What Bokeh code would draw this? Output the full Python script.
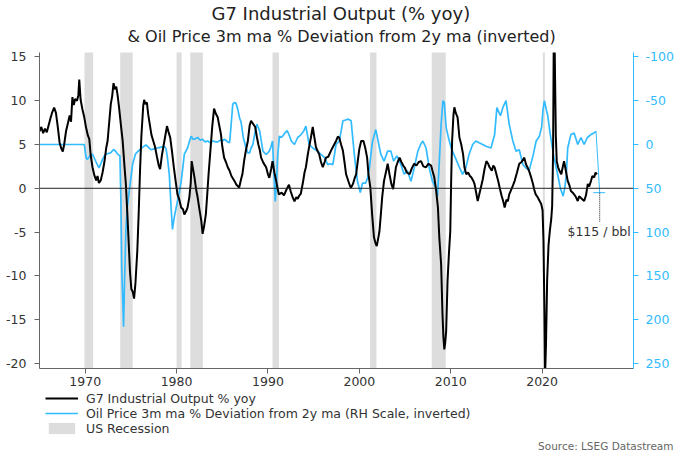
from bokeh.plotting import figure
from bokeh.layouts import column
from bokeh.models import Range1d, LinearAxis, Span, Label, Legend, LegendItem, FixedTicker, Title
from bokeh.embed import file_html
from bokeh.resources import INLINE

FONT = "DejaVu Sans"

# ---------------- data ----------------
ip_year = [1965.0, 1965.2, 1965.4, 1965.6, 1965.8, 1966.0, 1966.2, 1966.4, 1966.6, 1966.8, 1967.0, 1967.2, 1967.4, 1967.55, 1967.7, 1967.9,
           1968.1, 1968.3, 1968.45, 1968.6, 1968.75, 1968.9, 1969.1, 1969.25, 1969.35, 1969.5, 1969.7, 1969.9, 1970.1, 1970.3, 1970.45, 1970.6,
           1970.8, 1971.0, 1971.2, 1971.35, 1971.5, 1971.7, 1971.9, 1972.1, 1972.3, 1972.45, 1972.6, 1972.8, 1972.95, 1973.1, 1973.25, 1973.4,
           1973.55, 1973.7, 1973.9, 1974.1, 1974.3, 1974.45, 1974.6, 1974.75, 1974.9, 1975.05, 1975.2, 1975.35, 1975.5, 1975.7, 1975.85, 1976.0,
           1976.15, 1976.35, 1976.45, 1976.6, 1976.75, 1976.9, 1977.05, 1977.25, 1977.45, 1977.65, 1977.85, 1978.05, 1978.2, 1978.4, 1978.6, 1978.8,
           1978.95, 1979.1, 1979.3, 1979.5, 1979.7, 1979.9, 1980.1, 1980.3, 1980.5, 1980.7, 1980.85, 1981.05, 1981.2, 1981.4, 1981.55, 1981.65,
           1981.8, 1981.95, 1982.15, 1982.3, 1982.5, 1982.7, 1982.85, 1983.0, 1983.2, 1983.35, 1983.5, 1983.7, 1983.9, 1984.1, 1984.3, 1984.5,
           1984.7, 1984.85, 1985.0, 1985.2, 1985.4, 1985.6, 1985.8, 1986.0, 1986.3, 1986.55, 1986.85, 1987.05, 1987.2, 1987.4, 1987.6, 1987.8,
           1988.0, 1988.15, 1988.35, 1988.6, 1988.8, 1988.95, 1989.1, 1989.25, 1989.5, 1989.8, 1990.0, 1990.15, 1990.35, 1990.5, 1990.7, 1990.9,
           1991.05, 1991.2, 1991.5, 1991.75, 1992.0, 1992.3, 1992.5, 1992.7, 1992.9, 1993.1, 1993.25, 1993.45, 1993.6, 1993.85, 1994.0, 1994.15,
           1994.35, 1994.5, 1994.7, 1994.9, 1995.05, 1995.25, 1995.45, 1995.6, 1995.8, 1996.0, 1996.2, 1996.35, 1996.6, 1996.9, 1997.15, 1997.45,
           1997.65, 1997.8, 1998.0, 1998.2, 1998.4, 1998.55, 1998.8, 1999.0, 1999.1, 1999.3, 1999.5, 1999.65, 1999.85, 2000.0, 2000.2, 2000.45,
           2000.65, 2000.85, 2001.0, 2001.2, 2001.4, 2001.6, 2001.75, 2001.9, 2002.05, 2002.2, 2002.35, 2002.5, 2002.7, 2002.9, 2003.1, 2003.3,
           2003.5, 2003.7, 2003.85, 2004.0, 2004.2, 2004.4, 2004.6, 2004.8, 2004.95, 2005.2, 2005.5, 2005.75, 2006.0, 2006.25, 2006.5, 2006.75,
           2007.0, 2007.3, 2007.55, 2007.85, 2008.0, 2008.2, 2008.4, 2008.6, 2008.75, 2008.95, 2009.1, 2009.2, 2009.3, 2009.4, 2009.5, 2009.65,
           2009.8, 2009.95, 2010.05, 2010.15, 2010.3, 2010.4, 2010.55, 2010.75, 2010.95, 2011.15, 2011.35, 2011.5, 2011.7, 2011.9, 2012.1, 2012.25,
           2012.45, 2012.6, 2012.8, 2012.95, 2013.1, 2013.3, 2013.5, 2013.7, 2013.9, 2014.1, 2014.25, 2014.5, 2014.65, 2014.8, 2015.0, 2015.2,
           2015.35, 2015.55, 2015.75, 2015.9, 2016.1, 2016.25, 2016.4, 2016.6, 2016.8, 2017.0, 2017.25, 2017.5, 2017.75, 2018.05, 2018.25, 2018.4,
           2018.6, 2018.8, 2019.0, 2019.15, 2019.3, 2019.5, 2019.7, 2019.9, 2020.05, 2020.15, 2020.25, 2020.32, 2020.42, 2020.55, 2020.7, 2020.85,
           2021.0, 2021.1, 2021.2, 2021.3, 2021.4, 2021.5, 2021.6, 2021.75, 2021.9, 2022.1, 2022.25, 2022.4, 2022.6, 2022.8, 2023.0, 2023.15,
           2023.35, 2023.5, 2023.7, 2023.9, 2024.05, 2024.25, 2024.45, 2024.6, 2024.8, 2025.0, 2025.15, 2025.35, 2025.5, 2025.7, 2025.85, 2026.0]
ip_yoy = [6.5, 7.0, 6.3, 6.8, 6.4, 7.2, 8.0, 8.7, 9.2, 8.6, 7.0, 5.2, 4.5, 4.2, 5.0, 6.5,
          7.4, 8.3, 7.6, 10.4, 9.5, 10.2, 10.0, 10.6, 12.4, 10.1, 9.0, 8.1, 6.9, 6.0, 5.6, 3.8,
          2.4, 1.5, 0.9, 1.4, 0.6, 0.9, 1.8, 3.0, 4.6, 5.4, 7.2, 9.6, 10.5, 12.0, 11.3, 11.6,
          10.6, 9.3, 7.3, 5.4, 2.5, 0.5, -2.6, -6.0, -9.5, -11.5, -11.8, -12.6, -10.8, -7.2, -3.0, 2.0,
          6.0, 9.4, 10.1, 9.6, 9.8, 8.4, 7.4, 6.1, 5.4, 4.7, 3.6, 2.6, 2.2, 3.8, 5.0, 6.2,
          7.1, 6.5, 5.8, 4.2, 2.4, 0.8, -0.7, -1.3, -2.2, -2.4, -3.0, -2.6, -2.2, -1.0, 0.6, 3.1,
          2.2, 1.3, -0.2, -1.0, -2.4, -3.7, -5.2, -4.4, -3.0, -0.8, 1.6, 4.3, 7.0, 9.1, 8.5, 8.1,
          7.0, 6.2, 4.8, 3.5, 3.0, 2.4, 2.0, 1.4, 0.9, 0.4, 0.1, 1.0, 1.6, 3.2, 4.4, 5.4,
          7.2, 7.7, 7.4, 7.0, 5.8, 5.0, 4.4, 3.5, 2.9, 2.4, 1.6, 1.2, 2.2, 3.1, 1.8, 0.85,
          0.0, -0.7, -0.5, -0.8, -0.2, 0.4, -0.4, -1.0, -1.5, -1.0, -1.2, -0.8, -0.6, 0.8, 1.8, 2.4,
          3.8, 4.7, 5.8, 7.0, 6.0, 4.7, 4.2, 3.9, 3.0, 2.4, 3.0, 3.5, 3.6, 4.3, 4.8, 5.4,
          5.9, 5.8, 5.0, 4.3, 2.8, 1.6, 0.8, 0.2, 0.1, 0.5, 1.2, 1.6, 3.3, 4.5, 5.4, 5.4,
          4.6, 3.5, 1.6, 0.1, -3.0, -5.6, -6.2, -6.6, -5.8, -4.9, -3.0, -1.0, 0.85, 1.8, 2.8, 1.6,
          0.5, -0.1, 1.2, 2.4, 3.0, 3.5, 3.0, 2.6, 2.4, 1.8, 1.6, 2.3, 2.8, 2.6, 3.0, 3.1,
          2.5, 2.4, 2.8, 2.6, 2.0, 1.25, -0.2, -2.2, -5.6, -8.7, -14.4, -17.0, -18.4, -17.6, -16.3, -10.6,
          -7.5, -4.9, 1.0, 5.4, 8.4, 9.25, 8.6, 8.1, 5.8, 5.0, 3.9, 2.4, 1.6, 1.8, 1.4, 1.25,
          0.9, 0.5, -0.6, -1.45, -0.8, 0.1, 1.0, 2.2, 3.1, 2.8, 2.4, 2.0, 2.6, 2.4, 1.6, 0.8,
          0.1, -0.8, -1.5, -2.2, -1.3, -1.5, -0.7, -0.2, 0.3, 0.85, 1.8, 2.8, 3.0, 3.5, 2.7, 2.4,
          1.9, 1.25, 0.5, -0.2, -0.7, -1.0, -1.4, -1.8, -2.5, -6.0, -14.0, -21.5, -18.0, -10.5, -6.5, -4.8,
          -3.5, -2.0, 4.0, 22.0, 14.0, 6.0, 3.1, 2.4, 2.0, 1.6, 2.4, 3.1, 2.0, 0.85, 0.3, -0.3,
          -0.5, -0.7, -1.0, -1.45, -0.9, -1.1, -1.3, -1.45, -0.8, 0.5, 0.2, 0.85, 1.4, 1.25, 1.8, 1.6]

oil_year = [1965.0, 1969.9, 1970.1, 1970.25, 1970.5, 1970.8, 1971.1, 1971.5, 1971.75, 1971.9, 1972.1, 1972.3, 1972.6, 1972.8, 1973.1, 1973.35,
            1973.55, 1973.8, 1973.9, 1974.0, 1974.2, 1974.3, 1974.45, 1974.6, 1974.8, 1974.95, 1975.2, 1975.5, 1975.75, 1976.0, 1976.3, 1976.65,
            1976.9, 1977.2, 1977.55, 1977.9, 1978.3, 1978.65, 1978.85, 1979.0, 1979.2, 1979.4, 1979.55, 1979.7, 1979.8, 1980.1, 1980.3, 1980.5,
            1980.7, 1980.85, 1981.2, 1981.45, 1981.6, 1981.8, 1981.95, 1982.3, 1982.6, 1982.85, 1983.1, 1983.4, 1983.7, 1984.0, 1984.3, 1984.5,
            1984.8, 1985.0, 1985.25, 1985.6, 1985.8, 1985.95, 1986.15, 1986.35, 1986.5, 1986.7, 1986.9, 1987.05, 1987.3, 1987.6, 1987.8, 1988.0,
            1988.15, 1988.35, 1988.6, 1988.8, 1989.1, 1989.3, 1989.45, 1989.8, 1990.15, 1990.35, 1990.5, 1990.6, 1990.8, 1990.95, 1991.05, 1991.25,
            1991.45, 1991.6, 1991.85, 1992.1, 1992.35, 1992.55, 1992.9, 1993.25, 1993.6, 1993.9, 1994.15, 1994.3, 1994.5, 1994.9, 1995.2, 1995.45,
            1995.8, 1996.2, 1996.4, 1996.55, 1996.8, 1997.1, 1997.3, 1997.45, 1997.8, 1998.0, 1998.2, 1998.5, 1998.75, 1999.1, 1999.3, 1999.45,
            1999.65, 1999.8, 2000.1, 2000.35, 2000.7, 2000.9, 2001.1, 2001.3, 2001.45, 2001.8, 2002.05, 2002.35, 2002.7, 2003.1, 2003.45, 2003.75,
            2004.1, 2004.35, 2004.55, 2004.9, 2005.25, 2005.65, 2006.0, 2006.4, 2006.7, 2006.95, 2007.3, 2007.65, 2008.0, 2008.4, 2008.55, 2008.7,
            2008.95, 2009.15, 2009.3, 2009.5, 2009.75, 2010.05, 2010.5, 2010.9, 2011.3, 2011.65, 2012.0, 2012.4, 2012.75, 2013.1, 2013.5, 2013.85,
            2014.4, 2014.8, 2015.05, 2015.3, 2015.45, 2015.7, 2016.05, 2016.4, 2016.8, 2017.15, 2017.5, 2017.9, 2018.25, 2018.6, 2019.0, 2019.35,
            2019.7, 2019.95, 2020.1, 2020.25, 2020.45, 2020.6, 2020.9, 2021.3, 2021.7, 2022.0, 2022.3, 2022.5, 2022.65, 2022.8, 2023.15, 2023.5,
            2023.9, 2024.25, 2024.6, 2024.95, 2025.3, 2025.65, 2025.9]
oil_dev = [0, 0, 15, 17, 13, 11, 18, 26.7, 21, 17, 13, 11, 10, 9.5, 5.7, 8,
           11, 13, 60, 140, 208, 160, 99, 72, 55, 42, 22, 11, 8, 6, 3, 0.5,
           3, 6, 5, 4, 3, 2, 5, 15, 34, 72, 97, 86, 80, 65, 55, 42,
           25, 11, 4, -5, -9.5, -6, -6, -8, -5, -6, -3, -4, -2, -4, -3, -3,
           -5, -4, -6, -3, -2, -20, -46, -48, -47, -40, -30, -26, -8, 4, 9.6, 9.5,
           4, 0, -15, -23, -15, -2, 7.6, 11.4, 7.6, 2, -4, 20, 65, 40, 15, -9.5,
           -8, -9.5, -13, -16, -10, -4, 0, -8, -11, -15, -21, -12, 0, 4, 6, 7.6,
           11.4, 15, 20, 23, 22, 23, 10, 0, -4, -15, -27, -28, -29, -27, -5, 11,
           30, 42, 55, 44, 44, 38, 27, 8, -4, -17, -4, 11, 19, 7.6, 7.6, 19,
           13, 18, 23, 34, 30, 42, 27, 7.6, 0, -4, 4, 27, 42, 50, 59, 30,
           -23, -50, -48, -19, -8, 4, 15, 25, 34, 27, 11.4, 0, -4, -2, 0, 2,
           4, -11, -42, -36, -33, -42, -50, -23, -4, 7.6, 6, 23, 27, 29, 13, -4,
           -9.5, -20, -40, -50, -40, -34, -11, 15, 34, 50, 59, 48, 34, 4, -11.5, -13,
           0, -8, 0, -8, -11, -13, -15]

# $115/bbl scenario for the oil series
scen_year = [2025.9, 2026.3]
scen_dev = [-15, 55]
scen_tick_year = [2025.6, 2026.9]
scen_drop_dev = [55, 88]
scen_label = "$115 / bbl"

rec_start = [1969.92, 1973.83, 1980.0, 1981.5, 1990.5, 2001.17, 2007.92, 2020.08]
rec_end = [1970.87, 1975.2, 1980.55, 1982.87, 1991.2, 2001.87, 2009.45, 2020.3]

left_ticks = [-20, -15, -10, -5, 0, 5, 10, 15]
right_ticks = [-100, -50, 0, 50, 100, 150, 200, 250]
year_ticks = [1970, 1980, 1990, 2000, 2010, 2020]

title_text = "G7 Industrial Output (% yoy)"
subtitle_text = "& Oil Price 3m ma % Deviation from 2y ma (inverted)"
source_text = "Source: LSEG Datastream"
legend_labels = ["G7 Industrial Output % yoy",
                 "Oil Price 3m ma % Deviation from 2y ma (RH Scale, inverted)",
                 "US Recession"]

BLUE = "#33BBFF"
GREY_TXT = "#333333"
AXIS = "#666666"
REC_GREY = "#DDDDDD"
TICK_FS = "12.5px"

# ---------------- main chart ----------------
p = figure(width=680, height=390, output_backend="svg", toolbar_location=None,
           x_range=Range1d(1965, 2030), y_range=Range1d(-20.57, 15.5),
           min_border_left=39, min_border_right=47, min_border_top=52, min_border_bottom=22)
p.extra_y_ranges = {"oil": Range1d(start=255.7, end=-105)}
p.outline_line_color = None
p.grid.visible = False
p.background_fill_color = "white"
p.border_fill_color = "white"

p.quad(left=rec_start, right=rec_end, bottom=-40, top=40, fill_color=REC_GREY, line_color=None)
p.add_layout(Span(location=0, dimension="width", line_color="#222222", line_width=1))

p.line(oil_year, oil_dev, y_range_name="oil", line_color=BLUE, line_width=1.7)
p.line(scen_year, scen_dev, y_range_name="oil", line_color=BLUE, line_width=1)
p.line(scen_tick_year, [scen_dev[1], scen_dev[1]], y_range_name="oil", line_color=BLUE, line_width=1)
p.line([scen_year[1], scen_year[1]], scen_drop_dev, y_range_name="oil",
       line_color="#222222", line_width=1, line_dash="1 1")
p.line(ip_year, ip_yoy, line_color="black", line_width=2)

p.add_layout(Label(x=2029.7, y=99, y_range_name="oil", text=scen_label, text_align="right",
                   text_baseline="middle", text_font=FONT, text_font_size="12.5px",
                   text_color=GREY_TXT))

for ax in (p.xaxis[0], p.yaxis[0]):
    ax.axis_line_color = AXIS
    ax.major_tick_line_color = AXIS
    ax.minor_tick_line_color = None
    ax.major_tick_out = 5
    ax.major_tick_in = 0
    ax.major_label_text_font = FONT
    ax.major_label_text_font_size = TICK_FS
    ax.major_label_text_color = GREY_TXT
p.xaxis.ticker = FixedTicker(ticks=year_ticks)
p.xaxis.major_label_standoff = 3
p.yaxis.ticker = FixedTicker(ticks=left_ticks)
p.yaxis.major_label_standoff = 8
p.yaxis.major_label_overrides = {t: str(t) for t in left_ticks}

rax = LinearAxis(y_range_name="oil", ticker=FixedTicker(ticks=right_ticks))
rax.axis_line_color = BLUE
rax.major_tick_line_color = BLUE
rax.minor_tick_line_color = None
rax.major_tick_out = 5
rax.major_tick_in = 0
rax.major_label_standoff = 7
rax.major_label_text_font = FONT
rax.major_label_text_font_size = TICK_FS
rax.major_label_text_color = BLUE
rax.major_label_overrides = {t: str(t) for t in right_ticks}
p.add_layout(rax, "right")

p.add_layout(Title(text=subtitle_text, align="left", offset=88, standoff=14,
                   text_font=FONT, text_font_size="16px", text_font_style="normal",
                   text_color="#222222"), "above")
p.add_layout(Title(text=title_text, align="left", offset=172, standoff=-12,
                   text_font=FONT, text_font_size="18px", text_font_style="normal",
                   text_color="#222222"), "above")

# ---------------- legend & source strip (frame aligned with the chart above) ----------------
q = figure(width=680, height=65, output_backend="svg", toolbar_location=None,
           x_range=Range1d(0, 594), y_range=Range1d(0, 47),
           x_axis_location=None, y_axis_location=None,
           min_border_left=39, min_border_right=47, min_border_top=0, min_border_bottom=18)
q.outline_line_color = None
q.grid.visible = False
q.background_fill_color = "white"
q.border_fill_color = "white"

# legend keys: same series, outside this strip's visible range
k_ip = q.line(ip_year, ip_yoy, line_color="black", line_width=2)
k_oil = q.line(oil_year, oil_dev, line_color=BLUE, line_width=1.7)
k_rec = q.quad(left=rec_start, right=rec_end, bottom=-40, top=40, fill_color=REC_GREY, line_color=None)

legend = Legend(items=[LegendItem(label=legend_labels[0], renderers=[k_ip]),
                       LegendItem(label=legend_labels[1], renderers=[k_oil]),
                       LegendItem(label=legend_labels[2], renderers=[k_rec])],
                location=(6, 1.5), orientation="vertical")
legend.background_fill_alpha = 0
legend.border_line_color = None
legend.padding = 0
legend.margin = 0
legend.spacing = 0
legend.glyph_width = 33
legend.glyph_height = 14
legend.label_height = 15
legend.label_standoff = 8
legend.label_text_font = FONT
legend.label_text_font_size = "12.5px"
legend.label_text_color = GREY_TXT
q.add_layout(legend, "center")

q.add_layout(Title(text=source_text, align="right", offset=-40, standoff=0,
                   text_font=FONT, text_font_size="10.5px", text_font_style="normal",
                   text_color="#666666"), "below")

open("out.html", "w").write(file_html(column(p, q, spacing=0), INLINE))
